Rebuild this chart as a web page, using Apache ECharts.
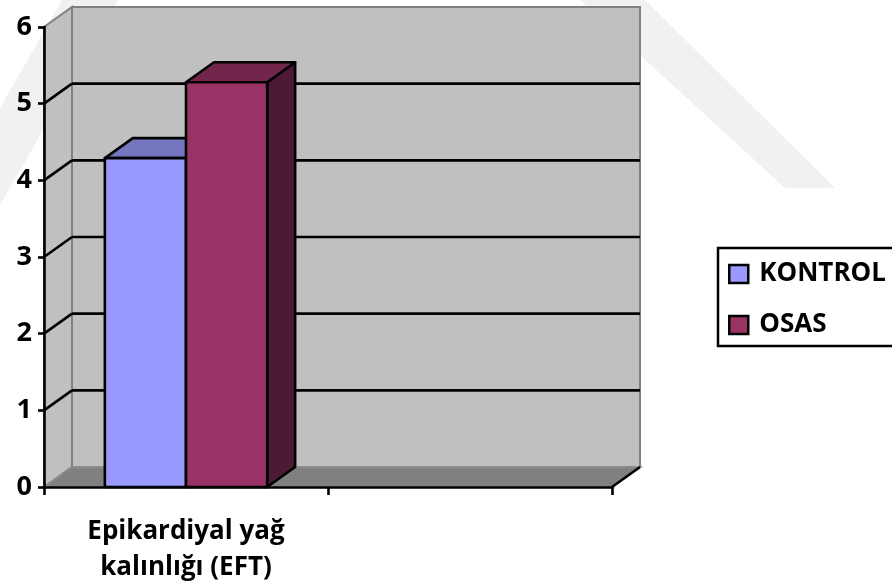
<!DOCTYPE html>
<html>
<head>
<meta charset="utf-8">
<script src="https://cdn.jsdelivr.net/npm/echarts@6/dist/echarts.min.js"></script>
<style>
  html, body { margin: 0; padding: 0; background: #ffffff; }
  #chart { width: 892px; height: 587px; }
</style>
</head>
<body>
<div id="chart"></div>
<script>
// Categories and values
const categories = ['Epikardiyal yağ\nkalınlığı (EFT)', ''];
const seriesNames = ['KONTROL', 'OSAS'];
const kontrolValues = [4.29, null];
const osasValues = [5.28, null];
const yTicks = [0, 1, 2, 3, 4, 5, 6];

// Pseudo-3D depth offset of the plot box
const DX = 28, DY = -20;

const faceColors = [
  { front: '#9999ff', top: '#7676c0', side: '#4d4d80' },
  { front: '#993366', top: '#72264c', side: '#4c1a34' }
];

const FONT = '"Open Sans", "Noto Sans", sans-serif';
const EDGE = 2.6;

// Walls, floor and gridlines of the 3D box
function frameRenderer(params, api) {
  const cs = params.coordSys;
  const xL = cs.x, xR = cs.x + cs.width;
  const yB = api.coord([0, yTicks[0]])[1];
  const yT = api.coord([0, yTicks[yTicks.length - 1]])[1];
  const children = [
    { type: 'polygon', shape: { points: [[xL, yB], [xL + DX, yB + DY], [xL + DX, yT + DY], [xL, yT]] },
      style: { fill: '#c0c0c0', stroke: '#808080', lineWidth: 2 } },
    { type: 'rect', shape: { x: xL + DX, y: yT + DY, width: xR - xL, height: yB - yT },
      style: { fill: '#c0c0c0', stroke: '#808080', lineWidth: 2 } },
    { type: 'polygon', shape: { points: [[xL, yB], [xL + DX, yB + DY], [xR + DX, yB + DY], [xR, yB]] },
      style: { fill: '#808080', stroke: '#8c8c8c', lineWidth: 2 } },
    { type: 'line', shape: { x1: xR, y1: yB, x2: xR + DX, y2: yB + DY },
      style: { stroke: '#000', lineWidth: EDGE } }
  ];
  yTicks.slice(1, -1).forEach(function (v) {
    const y = api.coord([0, v])[1];
    children.push({ type: 'line', shape: { x1: xL + DX, y1: y + DY, x2: xR + DX, y2: y + DY },
      style: { stroke: '#000', lineWidth: EDGE } });
    children.push({ type: 'line', shape: { x1: xL, y1: y, x2: xL + DX, y2: y + DY },
      style: { stroke: '#000', lineWidth: EDGE } });
  });
  return { type: 'group', children: children };
}

// Box-shaped bar: side, top and front faces
function barRenderer(seriesIdx) {
  const c = faceColors[seriesIdx];
  return function (params, api) {
    const ci = api.value(0), v = api.value(1);
    if (v == null || isNaN(v)) return;
    const band = api.size([1, 0])[0];
    const bw = band / 3.5;
    const base = api.coord([ci, 0]);
    const top = api.coord([ci, v]);
    const x0 = base[0] - band / 2 + 0.75 * bw + seriesIdx * bw;
    const x1 = x0 + bw;
    const yb = base[1], yt = top[1];
    const line = { stroke: '#000', lineWidth: EDGE, lineJoin: 'round' };
    return {
      type: 'group',
      children: [
        { type: 'polygon', shape: { points: [[x1, yb], [x1 + DX, yb + DY], [x1 + DX, yt + DY], [x1, yt]] },
          style: Object.assign({ fill: c.side }, line) },
        { type: 'polygon', shape: { points: [[x0, yt], [x0 + DX, yt + DY], [x1 + DX, yt + DY], [x1, yt]] },
          style: Object.assign({ fill: c.top }, line) },
        { type: 'rect', shape: { x: x0, y: yt, width: bw, height: yb - yt },
          style: Object.assign({ fill: c.front }, line) }
      ]
    };
  };
}

const valueSets = [kontrolValues, osasValues];

const chart = echarts.init(document.getElementById('chart'));
chart.setOption({
  animation: false,
  backgroundColor: '#ffffff',
  graphic: [
    { type: 'polygon', z: -5, shape: { points: [[580, 0], [645, 0], [835, 188], [785, 188]] },
      style: { fill: '#f1f1f1' } },
    { type: 'polygon', z: -5, shape: { points: [[62, 0], [118, 0], [0, 205], [0, 108]] },
      style: { fill: '#f1f1f1' } },
    // legend frame, open where it runs off the right edge
    { type: 'polyline', z: 5, shape: { points: [[905, 248], [718, 248], [718, 346], [905, 346]] },
      style: { fill: 'none', stroke: '#000', lineWidth: 2.5 } }
  ],
  grid: { left: 44, right: 280, top: 27, bottom: 100, containLabel: false },
  legend: {
    orient: 'vertical',
    left: 718,
    top: 248,
    data: seriesNames.map(function (n) { return { name: n, icon: 'rect' }; }),
    itemWidth: 19,
    itemHeight: 18,
    itemGap: 21,
    borderWidth: 0,
    padding: [11, 4, 6, 10],
    itemStyle: { borderColor: '#000', borderWidth: 2.5 },
    textStyle: { fontFamily: FONT, fontWeight: 'bold', fontSize: 26, color: '#000', lineHeight: 30, padding: [0, 0, 0, 6] }
  },
  xAxis: {
    type: 'category',
    data: categories,
    boundaryGap: true,
    z: 10,
    axisLine: { show: true, lineStyle: { color: '#000', width: EDGE } },
    axisTick: { show: true, length: 8, lineStyle: { color: '#000', width: EDGE } },
    axisLabel: { fontFamily: FONT, fontWeight: 'bold', fontSize: 26, lineHeight: 36, color: '#000', margin: 27, interval: 0 },
    splitLine: { show: false }
  },
  yAxis: {
    type: 'value',
    min: yTicks[0],
    max: yTicks[yTicks.length - 1],
    interval: 1,
    z: 10,
    axisLine: { show: true, lineStyle: { color: '#000', width: EDGE } },
    axisTick: { show: true, length: 6, lineStyle: { color: '#000', width: EDGE } },
    axisLabel: { fontFamily: FONT, fontWeight: 'bold', fontSize: 27, color: '#000', margin: 12 },
    splitLine: { show: false }
  },
  series: [
    { type: 'custom', name: '__frame', silent: true, z: 1, renderItem: frameRenderer, data: [[0, 0]],
      encode: { x: 0, y: 1 } }
  ].concat(seriesNames.map(function (name, i) {
    return {
      type: 'custom',
      name: name,
      z: 2 + i,
      renderItem: barRenderer(i),
      itemStyle: { color: faceColors[i].front, borderColor: '#000', borderWidth: 2.5 },
      encode: { x: 0, y: 1 },
      data: valueSets[i].map(function (v, ci) { return [ci, v]; }).filter(function (d) { return d[1] != null; })
    };
  }))
});
</script>
</body>
</html>
